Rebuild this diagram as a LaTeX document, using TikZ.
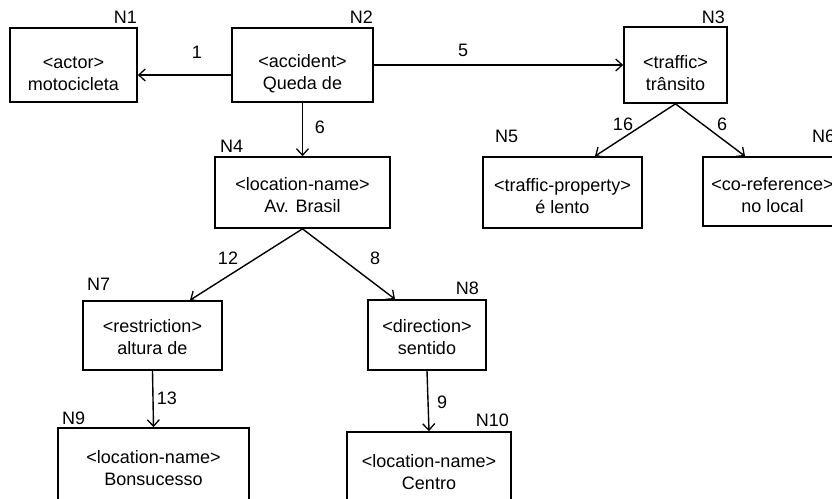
\documentclass[tikz,border=0pt]{standalone}
\usepackage{fontspec}
\setmainfont{Liberation Sans}
\usetikzlibrary{arrows.meta}
\begin{document}
\begin{tikzpicture}[x=1pt,y=-1pt,
  box/.style={draw, line width=1.7pt, rectangle, inner sep=0pt},
  txt/.style={inner sep=0pt, align=center, font=\fontsize{18}{22}\selectfont},
  arr/.style={line width=1.4pt, -{Straight Barb[length=6.5pt,width=12pt,line width=1.3pt]}},
  lab/.style={inner sep=0pt, font=\fontsize{18}{22}\selectfont},
  ]
\useasboundingbox (0,0) rectangle (832,498);
% boxes
\node[box, minimum width=127pt, minimum height=74pt] (N1) at (73.5,65) {};
\node[box, minimum width=141pt, minimum height=74pt] (N2) at (302.5,65) {};
\node[box, minimum width=103pt, minimum height=76pt] (N3) at (675.5,65) {};
\node[box, minimum width=175pt, minimum height=71pt] (N4) at (302.5,192.5) {};
\node[box, minimum width=159pt, minimum height=71pt] (N5) at (562.5,192.5) {};
\node[box, minimum width=139pt, minimum height=69pt] (N6) at (772.5,191.5) {};
\node[box, minimum width=139pt, minimum height=69pt] (N7) at (152.5,335.5) {};
\node[box, minimum width=118pt, minimum height=70pt] (N8) at (427,335) {};
\node[box, minimum width=191pt, minimum height=72pt] (N9) at (153.5,464) {};
\node[box, minimum width=164pt, minimum height=72pt] (N10) at (429,468) {};
% box texts
\node[txt] (N1t) at ([yshift=-9pt]N1.center) {<actor>\\motocicleta};
\node[txt] (N2t) at ([yshift=-9pt]N2.center) {<accident>\\Queda de};
\node[txt] (N3t) at ([yshift=-8pt]N3.center) {<traffic>\\trânsito};
\node[txt] (N4t) at ([yshift=-3pt]N4.center) {<location-name>\\Av. Brasil};
\node[txt] (N5t) at ([yshift=-4pt]N5.center) {<traffic-property>\\é lento};
\node[txt] (N6t) at ([yshift=-4pt]N6.center) {<co-reference>\\no local};
\node[txt] (N7t) at ([yshift=-2pt]N7.center) {<restriction>\\altura de};
\node[txt] (N8t) at ([yshift=-2pt]N8.center) {<direction>\\sentido};
\node[txt] (N9t) at ([yshift=-4pt]N9.center) {<location-name>\\Bonsucesso};
\node[txt] (N10t) at ([yshift=-4pt]N10.center) {<location-name>\\Centro};
% node labels
\node[lab, anchor=base east] (lN1) at (137,23) {N1};
\node[lab, anchor=base east] (lN2) at (373,23) {N2};
\node[lab, anchor=base east] (lN3) at (725,23) {N3};
\node[lab, anchor=base west] (lN4) at (220,152) {N4};
\node[lab, anchor=base west] (lN5) at (495,142) {N5};
\node[lab, anchor=base west] (lN6) at (812,142) {N6};
\node[lab, anchor=base west] (lN7) at (87,290) {N7};
\node[lab, anchor=base east] (lN8) at (479,294) {N8};
\node[lab, anchor=base west] (lN9) at (62,424) {N9};
\node[lab, anchor=base east] (lN10) at (509,426) {N10};
% connectors
\draw[arr] ([yshift=-10pt]N2.west) -- ([yshift=-10pt]N1.east);
\draw[arr] (N2.east) -- (N3.west);
\draw[arr] (N2.south) -- (N4.north);
\draw[arr] (N3.south) -- ([xshift=32.5pt]N5.north);
\draw[arr] (N3.south) -- ([xshift=-27.5pt]N6.north);
\draw[arr] (N4.south) -- ([xshift=37.5pt]N7.north);
\draw[arr] (N4.south) -- ([xshift=-32pt]N8.north);
\draw[arr] (N7.south) -- (N9.north);
\draw[arr] (N8.south) -- (N10.north);
% connector labels
\node[lab] (e1) at (197,52) {1};
\node[lab] (e5) at (463,50) {5};
\node[lab] (e6a) at (320,127) {6};
\node[lab] (e16) at (623,124) {16};
\node[lab] (e6b) at (722,124) {6};
\node[lab] (e12) at (228,258) {12};
\node[lab] (e8) at (375,258) {8};
\node[lab] (e13) at (167,398) {13};
\node[lab] (e9) at (442,402) {9};
\end{tikzpicture}
\end{document}
